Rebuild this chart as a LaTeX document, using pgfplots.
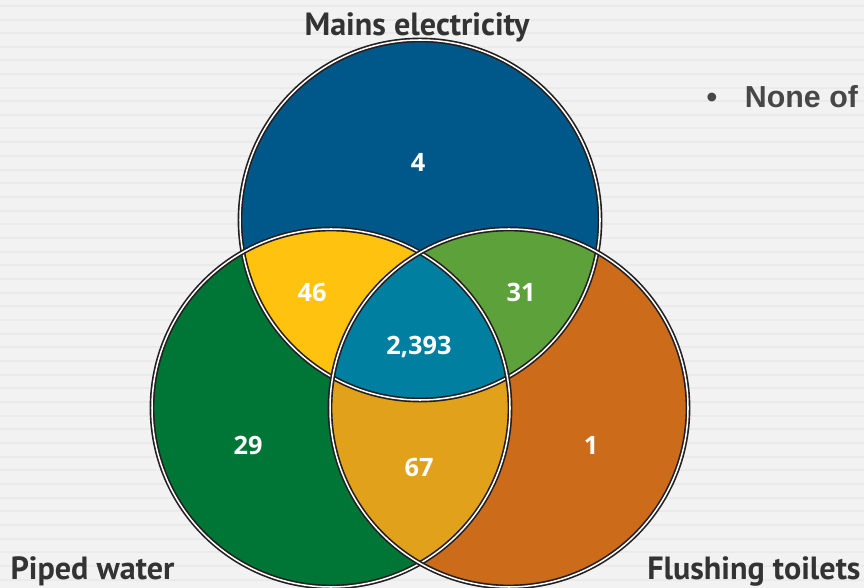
\documentclass[border=0pt]{standalone}
\usepackage{pgfplots}
\pgfplotsset{compat=1.18}
\usepackage{pgfplotstable}
\usepackage{fontspec}
\setmainfont{Liberation Sans}
\newfontfamily\labfont{PT Sans}
\newfontfamily\numfont{Open Sans}
\definecolor{bg}{RGB}{242,242,242}
\definecolor{stripe}{RGB}{234,234,234}
\definecolor{cTop}{RGB}{0,88,138}
\definecolor{cLeft}{RGB}{0,118,54}
\definecolor{cRight}{RGB}{204,107,26}
\definecolor{cTL}{RGB}{255,194,14}
\definecolor{cTR}{RGB}{93,161,58}
\definecolor{cLR}{RGB}{226,161,26}
\definecolor{cAll}{RGB}{0,127,160}
\definecolor{edge}{RGB}{35,31,32}
\definecolor{txt}{RGB}{51,51,51}

% circles: centre x, centre y, radius (pixel units, y downward)
\def\TopC{(axis cs:420,220) circle[radius=180]}
\def\LeftC{(axis cs:331,408) circle[radius=179]}
\def\RightC{(axis cs:509,408) circle[radius=179]}

\pgfplotstableread{
x   y   lab
418 162 4
312 292 46
521 292 31
419 347 2,393
248 445 29
419 467 67
591 445 1
}\counts

\begin{document}
\begin{tikzpicture}
\begin{axis}[
  width=12cm, height=8.1667cm, scale only axis,
  xmin=0, xmax=864, ymin=0, ymax=588, y dir=reverse,
  hide axis, clip=true,
]
\fill[bg] (rel axis cs:0,0) rectangle (rel axis cs:1,1);
\pgfplotsinvokeforeach{6,20,33,47,60,74,88,101,115,128,142,156,170,183,197,211,224,238,252,265,279,293,306,320,334,347,361,375,388,402,416,429,443,457,470,484,498,511,525,539,552,566,580}{
  \draw[stripe, line width=0.6pt] (axis cs:0,#1) -- (axis cs:864,#1);
}
\fill[cTop] \TopC;
\fill[cLeft] \LeftC;
\fill[cRight] \RightC;
\begin{scope}
  \clip \TopC;
  \fill[cTL] \LeftC;
  \fill[cTR] \RightC;
\end{scope}
\begin{scope}
  \clip \LeftC;
  \fill[cLR] \RightC;
\end{scope}
\begin{scope}
  \clip \TopC;
  \clip \LeftC;
  \fill[cAll] \RightC;
\end{scope}
\draw[edge, line width=0.65pt, double=white, double distance=0.6pt] \TopC;
\draw[edge, line width=0.65pt, double=white, double distance=0.6pt] \LeftC;
\draw[edge, line width=0.65pt, double=white, double distance=0.6pt] \RightC;

\addplot[only marks, mark=none, nodes near coords, point meta=explicit symbolic,
  every node near coord/.append style={anchor=center, text=white, font=\numfont\bfseries\fontsize{10}{12}\selectfont}]
  table[x=x, y=y, meta=lab] {\counts};

\node[text=txt, font=\labfont\bfseries\fontsize{12.7}{15}\selectfont] at (axis cs:417,27) {Mains electricity};
\node[text=txt, font=\labfont\bfseries\fontsize{12.7}{15}\selectfont, anchor=west, inner sep=0pt] at (axis cs:10,571) {Piped water};
\node[text=txt, font=\labfont\bfseries\fontsize{12.7}{15}\selectfont, anchor=east, inner sep=0pt] at (axis cs:861,571) {Flushing toilets};
\node[text=txt!90, font=\bfseries\fontsize{12}{14}\selectfont, anchor=west, inner sep=0pt] at (axis cs:706,97) {•\hspace{11pt}None of};
\end{axis}
\end{tikzpicture}
\end{document}
